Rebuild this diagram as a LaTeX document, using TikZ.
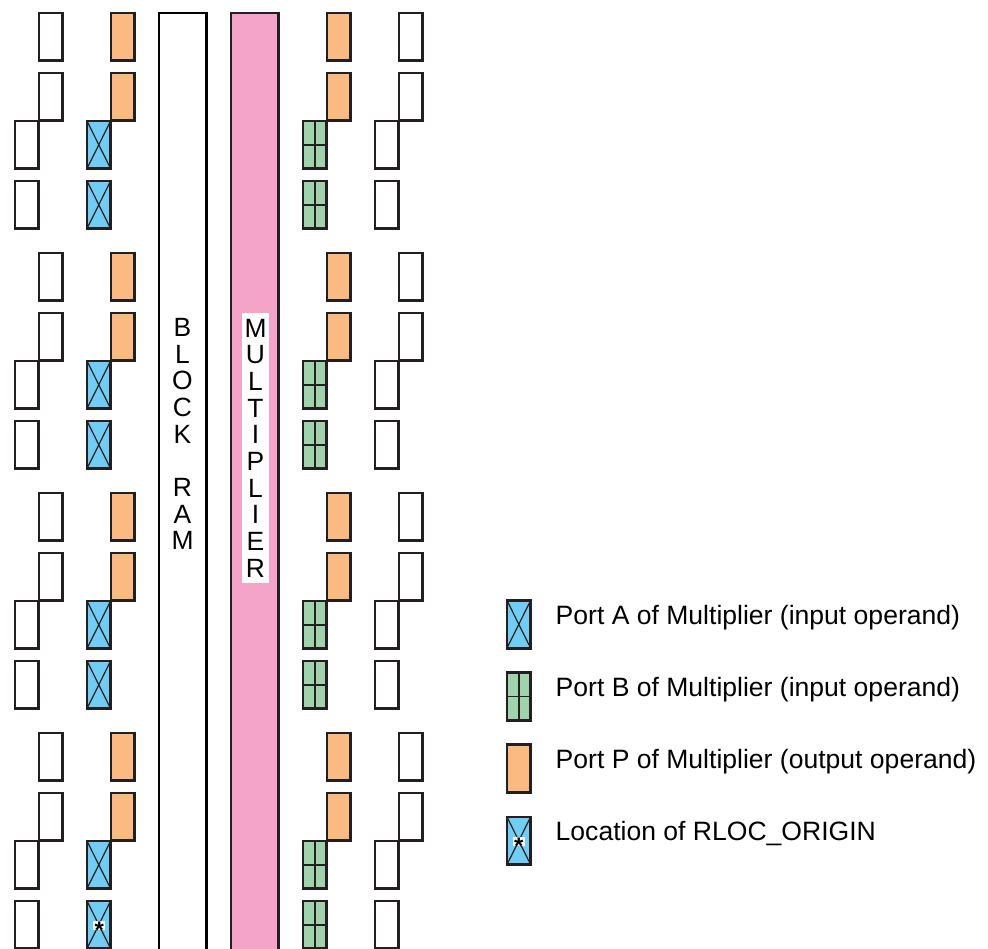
\documentclass[tikz,border=0pt]{standalone}
\usepackage{fontspec}
\setmainfont{Liberation Sans}
\usepackage{tikz}
\usetikzlibrary{positioning,calc}
\definecolor{rlblue}{HTML}{72CDF4}
\definecolor{rlgreen}{HTML}{A0D3AC}
\definecolor{rlorange}{HTML}{FBBA82}
\definecolor{rlpink}{HTML}{F3A4C8}
\definecolor{rlline}{HTML}{231F20}
\tikzset{
  cell/.style={rectangle, draw=rlline, line width=2.8pt, outer sep=0pt, inner sep=0pt,
               minimum width=23.6pt, minimum height=47.6pt, anchor=north west},
  porta/.style={cell, fill=rlblue, path picture={
      \draw[draw=rlline,line width=1.2pt] (path picture bounding box.north west) -- (path picture bounding box.south east);
      \draw[draw=rlline,line width=1.2pt] (path picture bounding box.north east) -- (path picture bounding box.south west);}},
  portb/.style={cell, fill=rlgreen, path picture={
      \draw[draw=rlline,line width=1.6pt] (path picture bounding box.north) -- (path picture bounding box.south);
      \draw[draw=rlline,line width=1.6pt] (path picture bounding box.west) -- (path picture bounding box.east);}},
  portp/.style={cell, fill=rlorange},
  column/.style={rectangle, line width=2.8pt, outer sep=0pt, inner sep=0pt,
                 minimum width=47.6pt, minimum height=948pt, anchor=north west},
  stacked/.style={align=center, inner sep=0pt, font=\fontsize{26.4}{26.67}\selectfont},
  legend/.style={anchor=base west, inner sep=0pt, font=\fontsize{26.55}{30}\selectfont},
  origin/.style={rectangle, fill=white, inner sep=0pt, minimum width=12pt, minimum height=9pt,
                 font=\fontsize{24}{24}\selectfont\bfseries},
}
\begin{document}
\begin{tikzpicture}[x=1pt,y=1pt]
\useasboundingbox (0,0) rectangle (988,-948);

% column x-origins
\def\ca{15}\def\cb{39}\def\cc{87}\def\cd{111}
\def\ce{303}\def\cf{327}\def\cg{375}\def\ch{399}

% ---------- slices, four groups ----------
\foreach \gy in {0,240,480,720}{
  \node[cell]  (b1-\gy) at (\cb,-13-\gy) {};
  \node[portp] (d1-\gy) at (\cd,-13-\gy) {};
  \node[portp] (f1-\gy) at (\cf,-13-\gy) {};
  \node[cell]  (h1-\gy) at (\ch,-13-\gy) {};
  \node[cell]  (b2-\gy) at (\cb,-73-\gy) {};
  \node[portp] (d2-\gy) at (\cd,-73-\gy) {};
  \node[portp] (f2-\gy) at (\cf,-73-\gy) {};
  \node[cell]  (h2-\gy) at (\ch,-73-\gy) {};
  \node[cell]  (a3-\gy) at (\ca,-121-\gy) {};
  \node[porta] (c3-\gy) at (\cc,-121-\gy) {};
  \node[portb] (e3-\gy) at (\ce,-121-\gy) {};
  \node[cell]  (g3-\gy) at (\cg,-121-\gy) {};
  \node[cell]  (a4-\gy) at (\ca,-181-\gy) {};
  \node[porta] (c4-\gy) at (\cc,-181-\gy) {};
  \node[portb] (e4-\gy) at (\ce,-181-\gy) {};
  \node[cell]  (g4-\gy) at (\cg,-181-\gy) {};
}
\node[origin] (star) at ($(c4-720)+(0.5,-0.5)$) {\raisebox{-13pt}[0pt][0pt]{*}};

% ---------- block ram and multiplier ----------
\node[column,draw=black,fill=white] (bram) at (159,-13) {};
\node[column,draw=rlline,fill=rlpink] (mult) at (231,-13) {};
\node[stacked] (bramtxt) at (182.5,-434) {B\\L\\O\\C\\K\\ ~\\R\\A\\M};
\node[stacked,fill=white,minimum width=27pt,minimum height=270pt] (multtxt) at (255.5,-448)
  {M\\U\\L\\T\\I\\P\\L\\I\\E\\R};

% ---------- legend ----------
\node[porta] (lega) at (507,-600.5) {};
\node[portb] (legb) at (507,-672.5) {};
\node[portp] (legp) at (507,-744.5) {};
\node[porta] (lego) at (507,-817) {};
\node[origin] (legstar) at ($(lego)+(0,-0.5)$) {\raisebox{-13pt}[0pt][0pt]{*}};
\node[legend] (txta) at (555.5,-624) {Port A of Multiplier (input operand)};
\node[legend] (txtb) at (555.5,-696) {Port B of Multiplier (input operand)};
\node[legend] (txtp) at (555.5,-768) {Port P of Multiplier (output operand)};
\node[legend] (txto) at (555.5,-840) {Location of RLOC\_ORIGIN};
\end{tikzpicture}
\end{document}
